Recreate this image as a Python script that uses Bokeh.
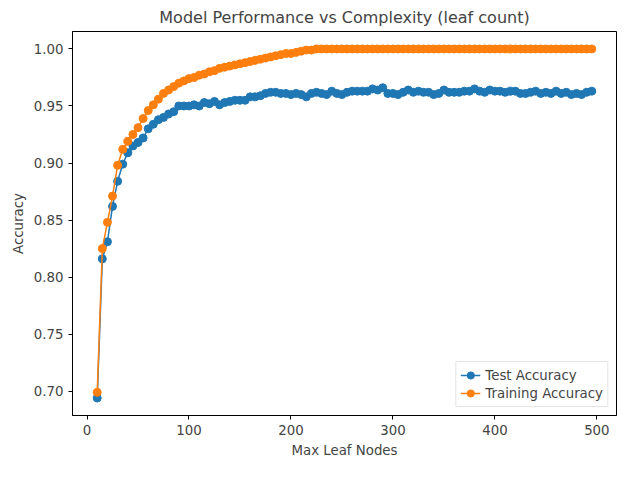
from bokeh.plotting import figure
from bokeh.models import Range1d, SingleIntervalTicker, FixedTicker, NumeralTickFormatter
from bokeh.embed import file_html
from bokeh.resources import INLINE

leaf_nodes = list(range(10, 500, 5))

train_acc = [0.699, 0.825, 0.848, 0.871, 0.898, 0.912, 0.919, 0.925, 0.931, 0.939,
             0.946, 0.951, 0.956, 0.961, 0.964, 0.967, 0.970, 0.972, 0.974, 0.975,
             0.977, 0.978, 0.980, 0.981, 0.983, 0.984, 0.985, 0.986, 0.987, 0.988,
             0.989, 0.990, 0.991, 0.992, 0.993, 0.994, 0.995, 0.996, 0.996, 0.997,
             0.998, 0.999, 0.999] + [1.0] * 55

test_acc = [0.694, 0.816, 0.831, 0.862, 0.884, 0.899, 0.909, 0.915, 0.918, 0.922,
            0.930, 0.934, 0.938, 0.940, 0.943, 0.945, 0.950, 0.950, 0.950, 0.951,
            0.950, 0.953, 0.952, 0.954, 0.951, 0.953, 0.954, 0.955, 0.955, 0.955,
            0.958, 0.958, 0.959, 0.961, 0.962, 0.962, 0.961, 0.961, 0.960, 0.961,
            0.960, 0.958, 0.961, 0.962, 0.961, 0.960, 0.963, 0.961, 0.960, 0.962,
            0.963, 0.963, 0.963, 0.963, 0.965, 0.964, 0.966, 0.961, 0.961, 0.960,
            0.962, 0.964, 0.962, 0.963, 0.962, 0.962, 0.960, 0.961, 0.964, 0.962,
            0.962, 0.962, 0.963, 0.963, 0.965, 0.963, 0.962, 0.964, 0.963, 0.963,
            0.962, 0.963, 0.963, 0.961, 0.961, 0.962, 0.963, 0.961, 0.962, 0.961,
            0.963, 0.961, 0.962, 0.960, 0.961, 0.960, 0.962, 0.963]

p = figure(width=624, height=464, min_border_left=72, min_border_right=8,
           min_border_top=24, min_border_bottom=49,
           x_range=Range1d(-14.25, 519.25), y_range=Range1d(0.6787, 1.0153),
           title="Model Performance vs Complexity (leaf count)",
           x_axis_label="Max Leaf Nodes", y_axis_label="Accuracy",
           toolbar_location=None, output_backend="svg")

p.title.align = "center"
p.title.text_font = "DejaVu Sans"
p.title.text_font_style = "normal"
p.title.text_font_size = "12pt"
p.grid.visible = False
p.outline_line_color = "black"

for ax in p.axis:
    ax.axis_label_text_font = "DejaVu Sans"
    ax.axis_label_text_font_style = "normal"
    ax.axis_label_text_font_size = "10pt"
    ax.major_label_text_font = "DejaVu Sans"
    ax.major_label_text_font_size = "10pt"
    ax.minor_tick_line_color = None
    ax.major_tick_in = 0
    ax.major_tick_out = 4
    ax.axis_line_color = "black"
p.xaxis.ticker = SingleIntervalTicker(interval=100)
p.yaxis.ticker = FixedTicker(ticks=[0.70, 0.75, 0.80, 0.85, 0.90, 0.95, 1.00])
p.yaxis.formatter = NumeralTickFormatter(format="0.00")

blue, orange = "#1f77b4", "#ff7f0e"
p.line(leaf_nodes, test_acc, line_color=blue, line_width=1.5, legend_label="Test Accuracy")
p.scatter(leaf_nodes, test_acc, size=8, color=blue, legend_label="Test Accuracy")
p.line(leaf_nodes, train_acc, line_color=orange, line_width=1.5, legend_label="Training Accuracy")
p.scatter(leaf_nodes, train_acc, size=8, color=orange, legend_label="Training Accuracy")

p.legend.location = "bottom_right"
p.legend.label_text_font = "DejaVu Sans"
p.legend.label_text_font_size = "10pt"
p.legend.border_line_color = "#cccccc"
p.legend.spacing = 0
p.legend.padding = 4
p.legend.margin = 8
p.legend.glyph_height = 18
p.legend.label_height = 18

open("out.html", "w").write(file_html(p, INLINE))
